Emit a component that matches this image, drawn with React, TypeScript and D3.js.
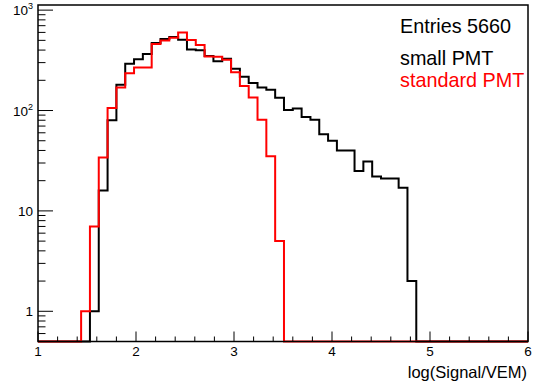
import React from "react";
import * as d3 from "d3";

// histogram binning (log(Signal/VEM)), bin i covers [binStart + i*binWidth, binStart + (i+1)*binWidth)
const binStart = 1.44;
const binWidth = 0.09;

// counts
const smallPMT = [
  0, 1, 16, 80, 181, 293, 325, 366, 470, 516, 540, 508, 405, 398, 350, 310, 328, 260, 217, 188,
  170, 161, 134, 101, 105, 86, 81, 58, 50, 40, 40, 25, 31, 22, 21, 21, 17, 2,
];
const standardPMT = [
  1, 7, 34, 106, 170, 235, 268, 268, 461, 497, 530, 597, 505, 449, 346, 343, 320, 240, 175, 135,
  81, 35, 5,
];

const xTicks = [1, 2, 3, 4, 5, 6];
const yDecades = [
  { v: 1, label: "1", exp: "" },
  { v: 10, label: "10", exp: "" },
  { v: 100, label: "10", exp: "2" },
  { v: 1000, label: "10", exp: "3" },
];
const legend = [
  { text: "Entries 5660", color: "#000" },
  { text: "small PMT", color: "#000" },
  { text: "standard PMT", color: "#ff0000" },
];

const W = 535;
const H = 385;
const frame = { left: 38, right: 528, top: 5, bottom: 341.5 };
const font = "'Liberation Sans', Arial, Helvetica, sans-serif";

export default function App() {
  const x = d3.scaleLinear().domain([1, 6]).range([frame.left, frame.right]);
  const y = d3.scaleLog().domain([0.5, 1125]).range([frame.bottom, frame.top]);
  const yMin = 0.5;

  const stepPath = (counts: number[]) => {
    const pts: [number, number][] = [[1, yMin]];
    counts.forEach((c, i) => pts.push([binStart + i * binWidth, Math.max(c, yMin)]));
    pts.push([binStart + counts.length * binWidth, yMin]);
    pts.push([6, yMin]);
    const line = d3
      .line<[number, number]>()
      .x((d) => x(d[0]))
      .y((d) => y(d[1]))
      .curve(d3.curveStepAfter);
    return line(pts) || "";
  };

  // minor ticks
  const xMinor: number[] = [];
  for (let t = 1; t <= 6.001; t += 0.2) {
    const r = Math.round(t * 10) / 10;
    if (Math.abs(r - Math.round(r)) > 1e-6) xMinor.push(r);
  }
  const yMinor: number[] = [];
  [0.1, 1, 10, 100].forEach((dec) => {
    for (let k = 2; k <= 9; k++) {
      const v = dec * k;
      if (v > 0.5 && v < 1125) yMinor.push(v);
    }
  });

  return (
    <svg
      width={W}
      height={H}
      style={{ position: "absolute", left: 0, top: 0, background: "#fff" }}
      fontFamily={font}
    >
      <rect x={0} y={0} width={W} height={H} fill="#fff" />

      {/* histograms */}
      <g fill="none" strokeWidth={2} strokeLinejoin="miter">
        <path d={stepPath(smallPMT)} stroke="#000" />
        <path d={stepPath(standardPMT)} stroke="#ff0000" />
      </g>

      {/* frame */}
      <rect
        x={frame.left}
        y={frame.top}
        width={frame.right - frame.left}
        height={frame.bottom - frame.top}
        fill="none"
        stroke="#000"
        strokeWidth={1.5}
      />

      {/* axis ticks */}
      <g stroke="#000" strokeWidth={1}>
        {xTicks.map((t) => (
          <line key={"xt" + t} x1={x(t)} x2={x(t)} y1={frame.bottom} y2={frame.bottom - 10} />
        ))}
        {xMinor.map((t) => (
          <line key={"xm" + t} x1={x(t)} x2={x(t)} y1={frame.bottom} y2={frame.bottom - 5} />
        ))}
        {yDecades.map((d) => (
          <line key={"yt" + d.v} x1={frame.left} x2={frame.left + 15} y1={y(d.v)} y2={y(d.v)} />
        ))}
        {yMinor.map((v) => (
          <line key={"ym" + v} x1={frame.left} x2={frame.left + 7.5} y1={y(v)} y2={y(v)} />
        ))}
      </g>

      {/* x tick labels */}
      <g fontSize={13.5} textAnchor="middle" fill="#000">
        {xTicks.map((t) => (
          <text key={"xl" + t} x={x(t)} y={356}>
            {t}
          </text>
        ))}
      </g>

      {/* y tick labels */}
      <g fontSize={13.5} textAnchor="end" fill="#000">
        {yDecades.map((d) => (
          <text key={"yl" + d.v} x={33} y={y(d.v) + 5}>
            {d.label}
            {d.exp && (
              <tspan fontSize={9} dy={-6}>
                {d.exp}
              </tspan>
            )}
          </text>
        ))}
      </g>

      {/* axis title */}
      <text x={527} y={378} fontSize={16.5} textAnchor="end" fill="#000">
        log(Signal/VEM)
      </text>

      {/* legend / stats */}
      <g fontSize={19.8}>
        {legend.map((l, i) => (
          <text key={l.text} x={400} y={[33, 65, 87][i]} fill={l.color}>
            {l.text}
          </text>
        ))}
      </g>
    </svg>
  );
}
